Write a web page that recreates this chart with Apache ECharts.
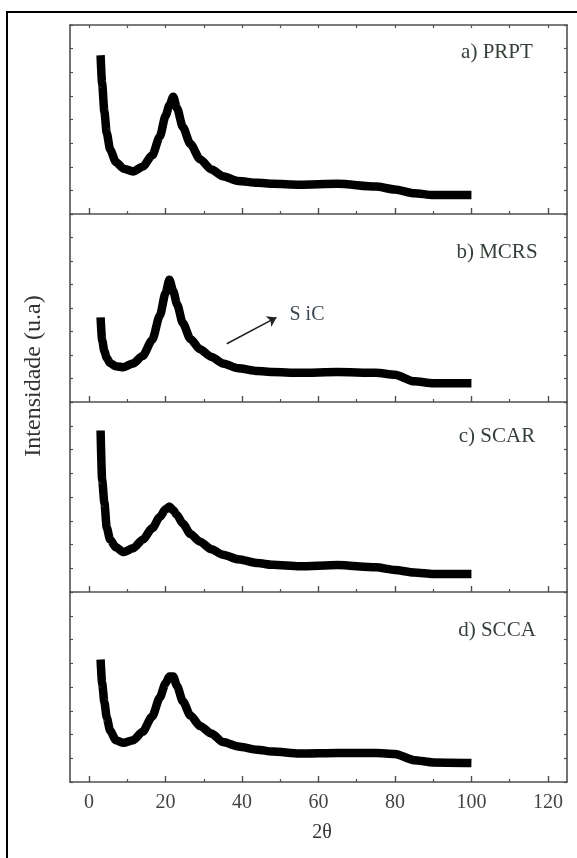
<!DOCTYPE html>
<html>
<head>
<meta charset="utf-8">
<script src="https://cdn.jsdelivr.net/npm/echarts@6/dist/echarts.min.js"></script>
<style>
html,body{margin:0;padding:0;background:#fff;}
#chart{width:577px;height:858px;}
</style>
</head>
<body>
<div id="chart"></div>
<script>
// 2θ sample positions (degrees)
const xDeg = [3, 3.4, 4, 4.6, 5.5, 7, 9, 11.5, 14, 16.5, 18.5, 20, 21, 22, 23, 24.5, 26.5, 29, 32, 35, 39, 44, 48, 55, 65, 75, 80, 85, 90, 100];
// intensities (arbitrary units, per panel 0-100)
const prpt = [84, 69, 54, 43, 34, 27.5, 24, 22.5, 25, 31, 41, 52, 57.5, 62, 56, 46, 37, 29, 23.5, 20, 17.5, 16.5, 16, 15.5, 16, 14.5, 13, 11, 10, 10];
const mcrs = [45, 33, 27, 23.5, 20.6, 19, 18.5, 20.5, 24.5, 33, 46, 58, 65, 59, 52, 42, 33.5, 28, 24, 20.5, 18, 16.5, 16, 15.5, 16, 15.5, 14.5, 11, 10, 10];
const scar = [85, 59, 47, 34, 27.5, 23.5, 21, 23, 27.5, 33.5, 39.5, 43.5, 45, 43, 40.5, 36, 30.5, 26.5, 22.5, 19.6, 17.2, 15.2, 14.3, 13.5, 14.2, 13, 11.6, 10.3, 9.5, 9.5];
const scca = [64.5, 52, 42, 34, 27, 22, 20.6, 22, 26.5, 34.5, 44.5, 52, 55.5, 55.5, 50.5, 42.5, 35, 29.5, 25.5, 21, 18.7, 17, 16, 15, 15.3, 15.3, 14.8, 11.5, 10.3, 10];
const panelLabels = ['a) PRPT', 'b) MCRS', 'c) SCAR', 'd) SCCA'];
const xTicks = [0, 20, 40, 60, 80, 100, 120];
const xMinorTicks = [10, 30, 50, 70, 90, 110];
const arrowFrom = [36, 31];
const arrowTo = [49, 45];

const seriesData = [prpt, mcrs, scar, scca];
const tops = [25, 214, 402, 592];
const heights = [189, 188, 190, 190];
const axisColor = '#505050';
const font = 'Liberation Serif';

const grids = [], xAxes = [], yAxes = [], series = [];
for (let i = 0; i < 4; i++) {
  grids.push({left: 70, width: 497, top: tops[i], height: heights[i]});
  const isLast = i === 3;
  xAxes.push({
    type: 'value', gridIndex: i, position: 'bottom', min: -5, max: 125,
    axisLine: {show: true, onZero: false, lineStyle: {color: axisColor, width: 1.6}},
    axisTick: {show: true, inside: true, length: 6, customValues: xTicks, lineStyle: {color: axisColor, width: 1.4}},
    axisLabel: {show: isLast, customValues: xTicks, margin: 11, fontFamily: font, fontSize: 20, color: '#444'},
    splitLine: {show: false}
  });
  xAxes.push({
    type: 'value', gridIndex: i, position: 'bottom', min: -5, max: 125,
    axisLine: {show: false},
    axisTick: {show: true, inside: true, length: 3, customValues: xMinorTicks, lineStyle: {color: axisColor, width: 1.2}},
    axisLabel: {show: false},
    splitLine: {show: false}
  });
  xAxes.push({
    type: 'value', gridIndex: i, position: 'top', min: -5, max: 125, show: i === 0,
    axisLine: {show: true, onZero: false, lineStyle: {color: axisColor, width: 1.6}},
    axisTick: {show: true, inside: true, length: 3, customValues: xTicks.concat(xMinorTicks), lineStyle: {color: axisColor, width: 1.2}},
    axisLabel: {show: false},
    splitLine: {show: false}
  });
  yAxes.push({
    type: 'value', gridIndex: i, position: 'left', min: 0, max: 100, interval: 12.5,
    axisLine: {show: true, onZero: false, lineStyle: {color: axisColor, width: 1.6}},
    axisTick: {show: true, inside: true, length: 3, lineStyle: {color: axisColor, width: 1.2}},
    axisLabel: {show: false}, splitLine: {show: false}
  });
  yAxes.push({
    type: 'value', gridIndex: i, position: 'right', min: 0, max: 100, interval: 12.5,
    axisLine: {show: true, onZero: false, lineStyle: {color: axisColor, width: 1.6}},
    axisTick: {show: true, inside: true, length: 3, lineStyle: {color: axisColor, width: 1.2}},
    axisLabel: {show: false}, splitLine: {show: false}
  });
  const s = {
    type: 'line', xAxisIndex: 3 * i, yAxisIndex: 2 * i,
    data: xDeg.map((x, k) => [x, seriesData[i][k]]),
    showSymbol: false, smooth: 0.25, smoothMonotone: 'x',
    lineStyle: {color: '#000', width: 8.5, join: 'round', cap: 'butt'},
    z: 1
  };
  if (i === 1) {
    s.markLine = {
      silent: true, symbol: ['none', 'arrow'], symbolSize: 9,
      label: {show: false},
      lineStyle: {color: '#222', width: 1.5, type: 'solid'},
      data: [[{coord: arrowFrom}, {coord: arrowTo}]]
    };
  }
  series.push(s);
}

const graphics = [
  {type: 'rect', shape: {x: 7, y: 12, width: 600, height: 900}, style: {fill: 'none', stroke: '#000', lineWidth: 2}, silent: true},
  {type: 'text', x: 34, y: 376, rotation: Math.PI / 2, style: {text: 'Intensidade (u.a)', fontFamily: font, fontSize: 24, fill: '#333', align: 'center', verticalAlign: 'middle'}},
  {type: 'text', x: 322, y: 833, style: {text: '2θ', fontFamily: font, fontSize: 20, fill: '#333', align: 'center', verticalAlign: 'middle'}},
  {type: 'text', x: 307, y: 315, style: {text: 'S iC', fontFamily: font, fontSize: 20, fill: '#3d4650', align: 'center', verticalAlign: 'middle'}}
];
const labelY = [52, 252, 436, 630];
for (let i = 0; i < 4; i++) {
  graphics.push({type: 'text', x: 497, y: labelY[i], style: {text: panelLabels[i], fontFamily: font, fontSize: 21, fill: '#354038', align: 'center', verticalAlign: 'middle'}});
}

const chart = echarts.init(document.getElementById('chart'));
chart.setOption({
  animation: false,
  backgroundColor: '#fff',
  grid: grids, xAxis: xAxes, yAxis: yAxes, series: series,
  graphic: graphics
});
</script>
</body>
</html>
